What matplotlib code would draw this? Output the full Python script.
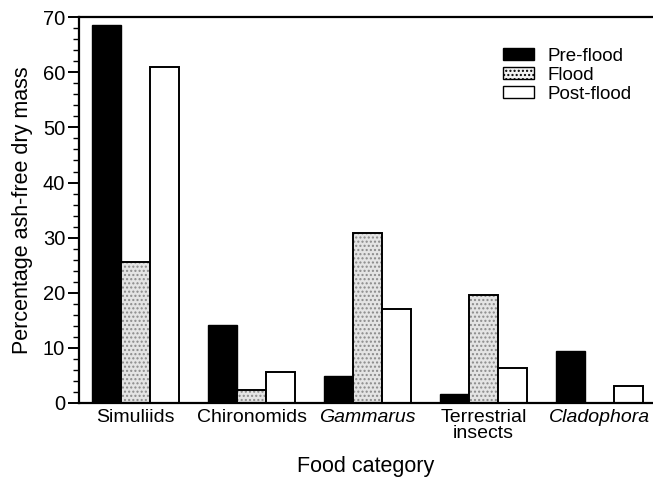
import matplotlib
matplotlib.use("Agg")
import matplotlib.pyplot as plt
import numpy as np
from matplotlib.patches import Patch
from matplotlib.ticker import MultipleLocator

plt.rcParams["font.family"] = ["Liberation Sans", "DejaVu Sans"]

# ---------------------------------------------------------------------------
# Datos
# ---------------------------------------------------------------------------
categorias = ["Simuliids", "Chironomids", "Gammarus", "Terrestrial\ninsects", "Cladophora"]
italica = [False, False, True, False, True]
pre_flood = [68.5, 14.2, 4.9, 1.6, 9.4]
flood = [25.5, 2.4, 30.8, 19.6, 0.0]
post_flood = [60.9, 5.7, 17.0, 6.3, 3.1]
series = ["Pre-flood", "Flood", "Post-flood"]

x = np.arange(len(categorias))
w = 0.25

fig = plt.figure(figsize=(6.53, 4.78), dpi=100)
ax = fig.add_axes([0.121, 0.157, 0.879, 0.807])

# Pre-flood (negro)
ax.bar(x - w, pre_flood, w, color="black", edgecolor="black", linewidth=1.0)
# Flood (punteado gris)
ax.bar(x, flood, w, color="#e4e4e4", edgecolor="#8a8a8a", hatch="....", linewidth=0)
ax.bar(x, flood, w, fill=False, edgecolor="black", linewidth=1.4)
# Post-flood (blanco)
ax.bar(x + w, post_flood, w, color="white", edgecolor="black", linewidth=1.4)

ax.set_xlim(-0.49, 4.46)
ax.set_ylim(0, 70)
ax.yaxis.set_major_locator(MultipleLocator(10))
ax.yaxis.set_minor_locator(MultipleLocator(2))
ax.tick_params(axis="y", which="major", length=8, width=1.4, labelsize=14.5, pad=2)
ax.tick_params(axis="y", which="minor", length=4, width=1.0)
ax.tick_params(axis="x", length=0, labelsize=14, pad=4)

ax.set_xticks(x)
ax.set_xticklabels(categorias, linespacing=0.95)
for lbl, it in zip(ax.get_xticklabels(), italica):
    if it:
        lbl.set_fontstyle("italic")

for s in ["left", "bottom", "top"]:
    ax.spines[s].set_linewidth(1.6)
ax.spines["right"].set_visible(False)

ax.set_ylabel("Percentage ash-free dry mass", fontsize=15.5)
ax.yaxis.set_label_coords(-0.08, 0.5)
ax.set_xlabel("Food category", fontsize=15.5, labelpad=10)

handles = [
    Patch(facecolor="black", edgecolor="black", label=series[0]),
    Patch(facecolor="#f2f2f2", edgecolor="black", hatch="....", label=series[1]),
    Patch(facecolor="white", edgecolor="black", label=series[2]),
]
ax.legend(handles=handles, loc="upper left", bbox_to_anchor=(0.726, 0.94),
          frameon=False, fontsize=13.5, handlelength=1.65, handleheight=0.6,
          handletextpad=0.7, labelspacing=0.1, borderaxespad=0)

fig.savefig("out.png", dpi=100)
